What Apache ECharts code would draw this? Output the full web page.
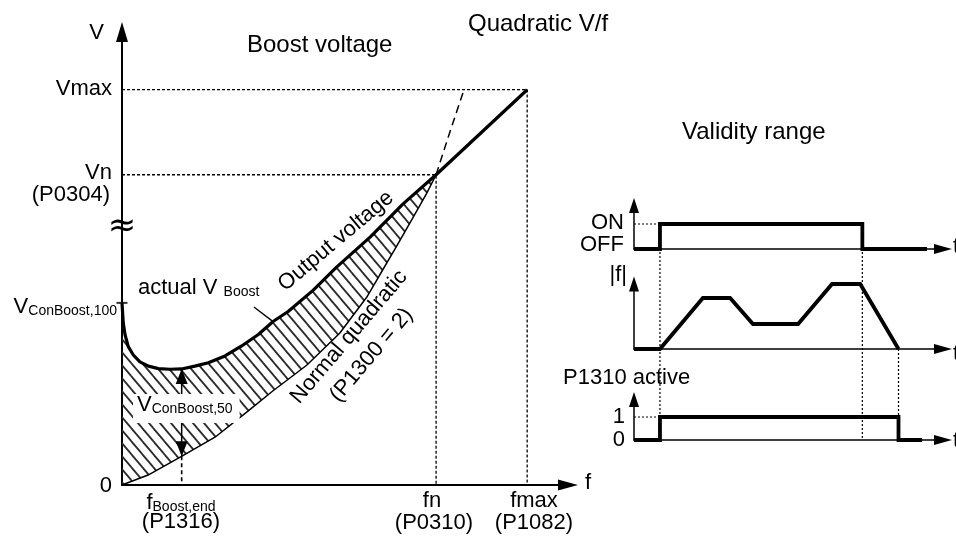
<!DOCTYPE html>
<html><head><meta charset="utf-8">
<script src="https://cdn.jsdelivr.net/npm/echarts@6/dist/echarts.min.js"></script>
<style>html,body{margin:0;padding:0;background:#fff}#c{width:956px;height:540px}</style>
</head><body><div id="c"></div>
<script>
// ---------------- data ----------------
// main V/f diagram: f in % of fn, V in % of Vn
const boostF = [0, 0.4, 1.0, 2.0, 3.6, 5.7, 8.4, 11.6, 15.3, 19.0, 23.2, 27.5, 32.8, 38.1, 43.4, 48.1, 53.0, 60.9, 68.4, 79.0, 89.5, 100];
const boostV = [58.7, 52.2, 48.3, 44.6, 41.9, 39.7, 38.3, 37.5, 37.3, 37.4, 38.3, 39.4, 41.6, 44.8, 48.5, 52.7, 56.0, 62.8, 70.3, 79.9, 90.6, 100];
const outputF = [100, 129];
const outputV = [100, 127.4];
const quadF = [0, 8.3, 19.1, 29.6, 40.1, 48.0, 58.8, 69.3, 77.9, 82.0, 87.4, 92.5, 97.0, 100];
const quadV = [0, 3.2, 9.3, 15.4, 23.8, 30.3, 38.6, 48.9, 60.5, 67.6, 76.9, 85.9, 94.0, 100];
const quadExtF = [100, 104.4, 108.9];
const quadExtV = [100, 113.8, 127.4];
const leaderF = [42.0, 47.8];
const leaderV = [57.4, 52.9];
const fN = 100, fMax = 129, fBoostEnd = 19;
const vN = 100, vMax = 127.4, vConBoost100 = 58.7, vBoostMin = 37.4, vQuadAtBoostEnd = 9.3;
const mainFMax = 142, mainVMax = 146;

// validity range timing diagrams: t in % of the time axis
const onT = [0, 8.4, 8.4, 73.9, 73.9, 94.8];
const onV = [0, 0, 1, 1, 0, 0];
const freqT = [0, 8.4, 22.3, 31.1, 38.5, 53.1, 64.1, 73.2, 85.6];
const freqV = [0, 0, 78.5, 78.5, 38.5, 38.5, 100, 100, 0];
const actT = [0, 8.4, 8.4, 85.6, 85.6, 93.2];
const actV = [0, 0, 1, 1, 0, 0];
const tOn = 8.4, tOff = 73.9, tStop = 85.6;

// ---------------- chart ----------------
const FONT = '"Liberation Sans", Arial, sans-serif';
const zip = (a, b) => a.map((x, i) => [x, b[i]]);

function makeHatch() {
  const w = 11, h = 13;
  const c = document.createElement('canvas');
  c.width = w; c.height = h;
  const g = c.getContext('2d');
  g.strokeStyle = '#2b2b2b';
  g.lineWidth = 1.8;
  for (const dx of [-w, 0, w]) {
    g.beginPath();
    g.moveTo(dx - w, -h);
    g.lineTo(dx + 2 * w, 2 * h);
    g.stroke();
  }
  return c;
}
const hatchImg = makeHatch();
const hatchPoly = zip(boostF, boostV).concat(zip(quadF, quadV).reverse());

const chart = echarts.init(document.getElementById('c'), null, {renderer: 'canvas'});

const noAxisBits = {axisLabel: {show: false}, axisTick: {show: false}, splitLine: {show: false}};
function mkAxis(type, gridIndex, max, lw, size) {
  return Object.assign({
    type: 'value', gridIndex, min: 0, max,
    axisLine: {show: true, onZero: false, symbol: ['none', 'triangle'], symbolSize: size,
      lineStyle: {color: '#000', width: lw}}
  }, noAxisBits);
}
const base = {type: 'line', showSymbol: false, symbol: 'none', silent: true, animation: false};
const dotted = {color: '#000', width: 1.3, type: [3, 2]};

function txt(text, x, y, o) {
  o = o || {};
  return {
    type: 'text', x, y, z: 50, rotation: o.rot ? o.rot * Math.PI / 180 : 0,
    style: Object.assign({
      text, fill: '#000', font: (o.size || 22) + 'px ' + FONT,
      align: o.align || 'left', verticalAlign: 'middle'
    }, o.style || {})
  };
}
const sub = (extra) => ({
  m: {fontSize: 22, fontFamily: FONT, lineHeight: 22},
  s: Object.assign({fontSize: 14, fontFamily: FONT, lineHeight: 14, verticalAlign: 'bottom'}, extra || {})
});

const texts = [
  txt('V', 96.5, 33, {align: 'center'}),
  txt('Boost voltage', 247, 45, {size: 24}),
  txt('Quadratic V/f', 468, 24, {size: 24}),
  txt('Validity range', 682, 132, {size: 24}),
  txt('Vmax', 112, 89, {align: 'right'}),
  txt('Vn', 112, 173, {align: 'right'}),
  txt('(P0304)', 110, 195, {align: 'right'}),
  txt('{m|V}{s|ConBoost,100}', 117, 307, {align: 'right', style: {rich: sub()}}),
  txt('0', 112, 486, {align: 'right'}),
  txt('f', 585, 483),
  txt('{m|f}{s|Boost,end}', 181, 503, {align: 'center', style: {rich: sub()}}),
  txt('(P1316)', 181, 522, {align: 'center'}),
  txt('fn', 432, 501, {align: 'center'}),
  txt('(P0310)', 434, 523, {align: 'center'}),
  txt('fmax', 534, 501, {align: 'center'}),
  txt('(P1082)', 534, 523, {align: 'center'}),
  txt('{m|actual V }{s|Boost}', 138, 288, {style: {rich: sub()}}),
  txt('{m|V}{s|ConBoost,50}', 133, 408.5, {style: {rich: sub(), backgroundColor: '#fff', padding: [0, 7, 7, 4]}}),
  txt('Output voltage', 336, 241, {align: 'center', rot: 40}),
  txt('Normal quadratic', 349, 337, {align: 'center', rot: 49.6}),
  txt('(P1300 = 2)', 371.5, 355, {align: 'center', rot: 49.6}),
  txt('\u2248', 122, 227, {align: 'center', style: {font: '34px "DejaVu Sans", sans-serif'}}),
  txt('ON', 624, 223, {align: 'right'}),
  txt('OFF', 624, 245, {align: 'right'}),
  txt('|f|', 627, 275, {align: 'right'}),
  txt('P1310 active', 563, 378),
  txt('1', 625, 417, {align: 'right'}),
  txt('0', 625, 440, {align: 'right'}),
  txt('t', 953, 247), txt('t', 953, 354), txt('t', 953, 441)
];

const sig = {color: '#000', width: 3.8, join: 'miter', cap: 'butt'};

const option = {
  animation: false,
  backgroundColor: '#fff',
  grid: [
    {left: 122, top: 32, width: 446, height: 453},
    {left: 634, top: 205.5, width: 309, height: 43.5},
    {left: 634, top: 284, width: 309, height: 65},
    {left: 634, top: 399.5, width: 309, height: 40.5}
  ],
  xAxis: [
    mkAxis('x', 0, mainFMax, 2, [11, 20]),
    mkAxis('x', 1, 100, 1.5, [10, 18]),
    mkAxis('x', 2, 100, 1.5, [10, 18]),
    mkAxis('x', 3, 100, 1.5, [10, 18])
  ],
  yAxis: [
    mkAxis('y', 0, mainVMax, 2, [12, 20]),
    mkAxis('y', 1, 1.74, 1.5, [10, 15]),
    mkAxis('y', 2, 100, 1.5, [10, 15]),
    mkAxis('y', 3, 1.76, 1.5, [10, 15])
  ],
  series: [
    {
      type: 'custom', name: 'boost area', xAxisIndex: 0, yAxisIndex: 0, silent: true, z: 1,
      data: [[0, 0]],
      renderItem: (params, api) => ({
        type: 'polygon',
        shape: {points: hatchPoly.map(p => api.coord(p))},
        style: {fill: {image: hatchImg, repeat: 'repeat'}, stroke: null}
      })
    },
    Object.assign({}, base, {name: 'Normal quadratic', data: zip(quadF, quadV), z: 3,
      lineStyle: {color: '#000', width: 1.5}}),
    Object.assign({}, base, {name: 'Output voltage', data: zip(boostF, boostV).concat(zip(outputF, outputV).slice(1)), z: 4,
      lineStyle: {color: '#000', width: 3.2, join: 'round'}}),
    Object.assign({}, base, {name: 'quadratic continuation', data: zip(quadExtF, quadExtV), z: 3,
      lineStyle: {color: '#000', width: 1.5, type: [8, 5]}}),
    Object.assign({}, base, {name: 'Vmax ref', data: [[0, vMax], [fMax, vMax], [fMax, 0]], z: 2, lineStyle: dotted}),
    Object.assign({}, base, {name: 'Vn ref', data: [[0, vN], [fN, vN], [fN, 0]], z: 2, lineStyle: dotted}),
    Object.assign({}, base, {name: 'fBoost,end ref', data: [[fBoostEnd, vQuadAtBoostEnd], [fBoostEnd, 0]], z: 2,
      lineStyle: {color: '#000', width: 1.6, type: [4, 3]}}),
    Object.assign({}, base, {name: 'leader', data: zip(leaderF, leaderV), z: 3,
      lineStyle: {color: '#000', width: 1.3}}),
    {
      type: 'line', name: 'VConBoost,50', silent: true, z: 5, showSymbol: true, showAllSymbol: true,
      itemStyle: {color: '#000', borderWidth: 0}, lineStyle: {color: '#000', width: 1.5},
      data: [
        {value: [fBoostEnd, vBoostMin], symbol: 'triangle', symbolSize: [12, 15], symbolOffset: [0, 7.5]},
        {value: [fBoostEnd, vQuadAtBoostEnd], symbol: 'triangle', symbolRotate: 180, symbolSize: [12, 15], symbolOffset: [0, -7.5]}
      ]
    },
    {
      type: 'scatter', name: 'VConBoost,100 tick', silent: true, clip: false, z: 5,
      symbol: 'rect', symbolSize: [11, 2], itemStyle: {color: '#000'},
      data: [[0, vConBoost100]]
    },
    // timing diagrams
    Object.assign({}, base, {name: 'ON/OFF', xAxisIndex: 1, yAxisIndex: 1, data: zip(onT, onV), clip: false, z: 4, lineStyle: sig}),
    Object.assign({}, base, {name: 'ON ref', xAxisIndex: 1, yAxisIndex: 1, data: [[0, 1], [tOn, 1]], z: 2,
      lineStyle: {color: '#000', width: 1.2, type: [2, 2]}}),
    Object.assign({}, base, {name: '|f|', xAxisIndex: 2, yAxisIndex: 2, data: zip(freqT, freqV), clip: false, z: 4, lineStyle: sig}),
    Object.assign({}, base, {name: 'P1310 active', xAxisIndex: 3, yAxisIndex: 3, data: zip(actT, actV), clip: false, z: 4, lineStyle: sig}),
    Object.assign({}, base, {name: 'active ref', xAxisIndex: 3, yAxisIndex: 3, data: [[0, 1], [tOn, 1]], z: 2,
      lineStyle: {color: '#000', width: 1.2, type: [2, 2]}})
  ],
  graphic: texts
};
chart.setOption(option);

// dotted connectors between the timing diagrams, positioned through the axes' scales
const connectors = [
  [tOn, 1, onV[2], 3, actV[2]],
  [tOff, 1, onV[2], 3, 0],
  [tStop, 2, 0, 3, actV[2]]
];
const connGraphics = connectors.map(c => {
  const a = chart.convertToPixel({gridIndex: c[1]}, [c[0], c[2]]);
  const b = chart.convertToPixel({gridIndex: c[3]}, [c[0], c[4]]);
  return {type: 'line', z: 0, silent: true,
    shape: {x1: a[0], y1: a[1], x2: b[0], y2: b[1]},
    style: {stroke: '#000', lineWidth: 1.2, lineDash: [2, 2]}};
});
chart.setOption({graphic: texts.concat(connGraphics)});
</script>
</body></html>
